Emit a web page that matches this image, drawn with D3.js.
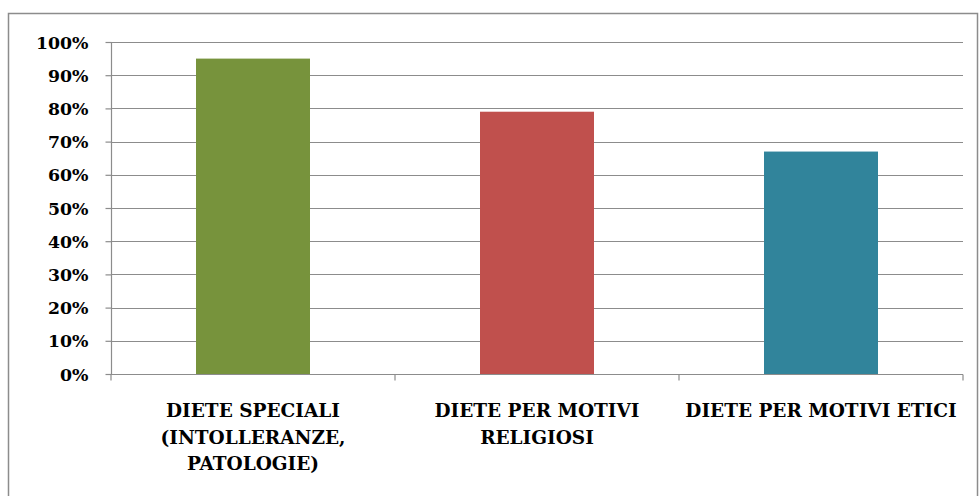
<!DOCTYPE html>
<html>
<head>
<meta charset="utf-8">
<script src="https://cdn.jsdelivr.net/npm/d3@7"></script>
<style>
  html, body { margin: 0; padding: 0; background: #fff; }
  svg { display: block; }
  text { font-family: "DejaVu Serif", "Liberation Serif", serif; font-weight: bold; fill: #000; }
</style>
</head>
<body>
<svg id="chart" width="979" height="496"></svg>
<script>
const categories = [
  ["DIETE SPECIALI", "(INTOLLERANZE,", "PATOLOGIE)"],
  ["DIETE PER MOTIVI", "RELIGIOSI"],
  ["DIETE PER MOTIVI ETICI"]
];
const values = [0.95, 0.79, 0.67];
const colors = ["#77933c", "#c0504d", "#31849b"];
const yTicks = [0, 0.1, 0.2, 0.3, 0.4, 0.5, 0.6, 0.7, 0.8, 0.9, 1.0];

(function () {
const svg = d3.select("#chart");
const mLeft = 111, mRight = 963, mTop = 42, mBottom = 374;

// outer border
svg.append("rect").attr("x", 8.5).attr("y", 13.5).attr("width", 969).attr("height", 500)
  .attr("fill", "none").attr("stroke", "#8c8c8c").attr("stroke-width", 1.5);

const x = d3.scaleBand().domain(d3.range(categories.length)).range([mLeft, mRight]).paddingInner(0).paddingOuter(0);
const y = d3.scaleLinear().domain([0, 1]).range([mBottom, mTop]);

// gridlines
svg.append("g").selectAll("line").data(yTicks.filter(d => d > 0)).join("line")
  .attr("x1", mLeft).attr("x2", mRight)
  .attr("y1", d => Math.round(y(d)) + 0.5).attr("y2", d => Math.round(y(d)) + 0.5)
  .attr("stroke", "#8c8c8c").attr("stroke-width", 1.2);

// y axis
const yAxis = d3.axisLeft(y).tickValues(yTicks).tickFormat(d3.format(".0%")).tickSize(6).tickPadding(17);
const gy = svg.append("g").attr("transform", `translate(${mLeft + 0.5},0)`).call(yAxis);
gy.selectAll("path, line").attr("stroke", "#8c8c8c").attr("stroke-width", 1.2);
gy.select(".domain").attr("d", `M0,${mTop}V${mBottom}`);
gy.selectAll("text").style("font-size", "17.3px").style("font-family", '"DejaVu Serif", serif').style("font-weight", "bold").attr("dy", "0.35em");

// bars
const barW = 114;
svg.append("g").selectAll("rect").data(values).join("rect")
  .attr("x", (d, i) => x(i) + x.bandwidth() / 2 - barW / 2)
  .attr("width", barW)
  .attr("y", d => y(d))
  .attr("height", d => y(0) - y(d))
  .attr("fill", (d, i) => colors[i]);

// x axis
const gx = svg.append("g").attr("transform", `translate(0,${mBottom + 0.5})`);
gx.append("line").attr("x1", mLeft).attr("x2", mRight).attr("stroke", "#8c8c8c").attr("stroke-width", 1.2);
gx.selectAll("line.tick").data(d3.range(categories.length + 1)).join("line").attr("class", "tick")
  .attr("x1", i => mLeft + i * x.bandwidth()).attr("x2", i => mLeft + i * x.bandwidth())
  .attr("y1", 0).attr("y2", 6).attr("stroke", "#8c8c8c").attr("stroke-width", 1.2);

// category labels
const lab = svg.append("g").selectAll("text").data(categories).join("text")
  .attr("text-anchor", "middle")
  .style("font-size", "18.5px");
lab.each(function(lines, i) {
  const t = d3.select(this);
  lines.forEach((ln, j) => {
    t.append("tspan").attr("x", x(i) + x.bandwidth() / 2).attr("y", 417 + j * 26.5).text(ln);
  });
});
})();
</script>
</body>
</html>
